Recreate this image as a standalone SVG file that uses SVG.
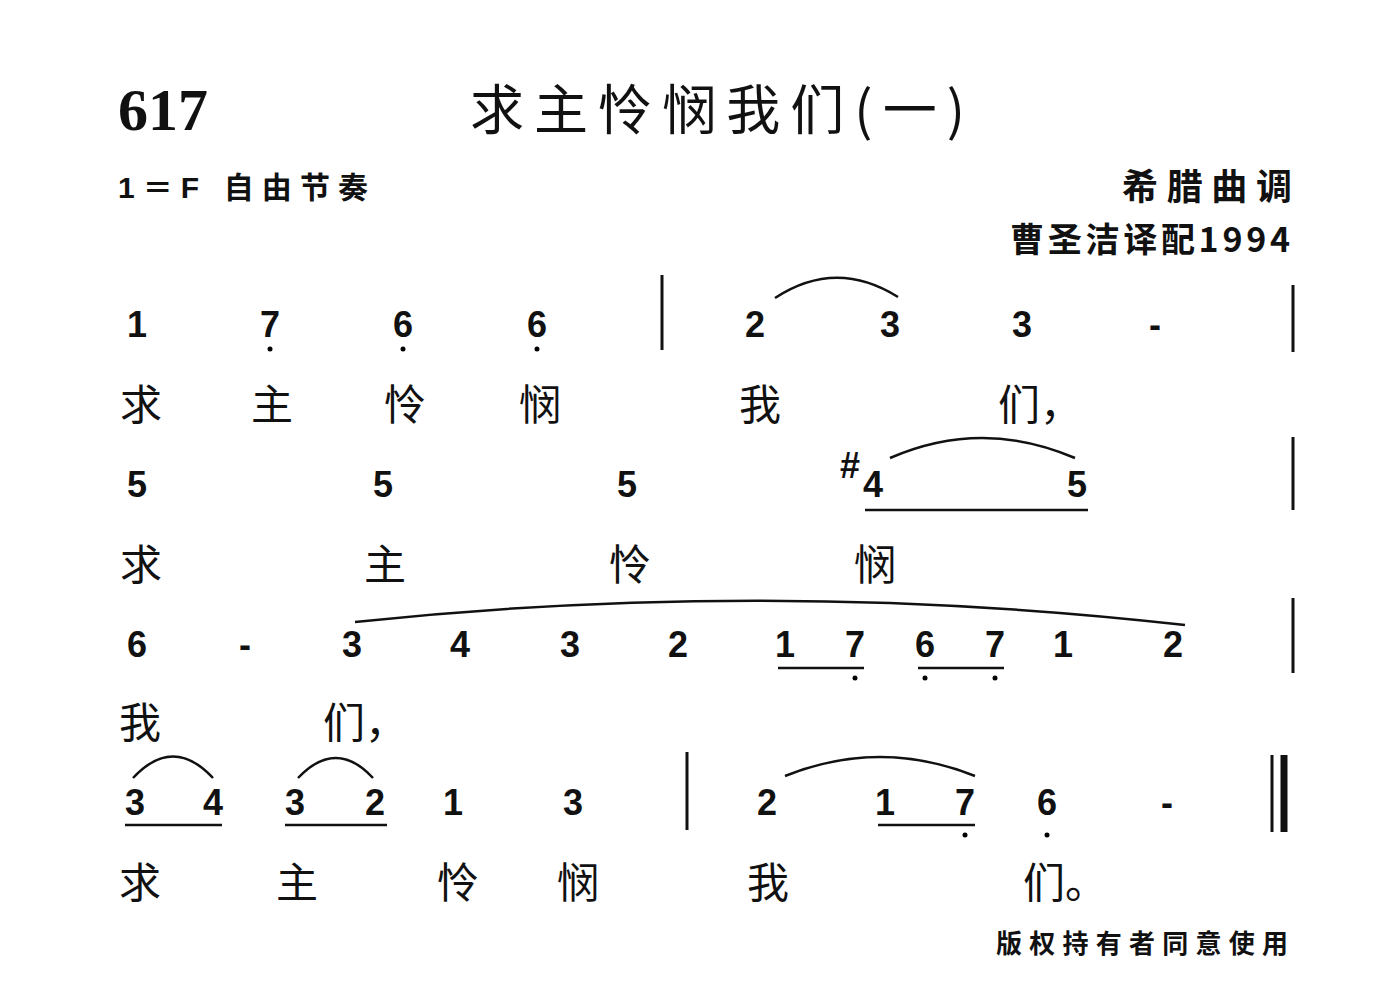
<svg xmlns="http://www.w3.org/2000/svg" width="1400" height="999" viewBox="0 0 1400 999">
<style>
.n{font-family:"Liberation Sans",sans-serif;font-weight:bold;font-size:36px;text-anchor:middle;fill:#111}
.l{font-family:"Noto Sans CJK SC",sans-serif;font-size:42px;text-anchor:middle;fill:#111}
.s{fill:none;stroke:#111;stroke-width:2.5}
.u{stroke:#111;stroke-width:2.5}
.b{stroke:#111;stroke-width:3}
</style>
<rect width="1400" height="999" fill="#fff"/>
<text x="118" y="130" font-family="Liberation Serif,serif" font-weight="bold" font-size="60" fill="#111">617</text>
<text x="470" y="130" textLength="495" font-family="Noto Sans CJK SC,sans-serif" font-size="54" fill="#111">求主怜悯我们(一)</text>
<text x="118" y="198" textLength="250" font-family="Liberation Sans,Noto Sans CJK SC,sans-serif" font-weight="bold" font-size="30" fill="#111">1＝F 自由节奏</text>
<text x="1292" y="200" text-anchor="end" textLength="170" font-family="Noto Sans CJK SC,sans-serif" font-weight="bold" font-size="36" fill="#111">希腊曲调</text>
<text x="1290" y="252" text-anchor="end" textLength="280" font-family="Noto Sans CJK SC,sans-serif" font-weight="bold" font-size="34" fill="#111">曹圣洁译配1994</text>
<text x="1288" y="953" text-anchor="end" textLength="292" font-family="Noto Sans CJK SC,sans-serif" font-weight="bold" font-size="26" fill="#111">版权持有者同意使用</text>
<g id="row1">
<text class="n" x="137" y="337">1</text><text class="n" x="270" y="337">7</text><text class="n" x="403" y="337">6</text><text class="n" x="537" y="337">6</text>
<circle cx="270" cy="349" r="2.5"/><circle cx="403" cy="349" r="2.5"/><circle cx="537" cy="349" r="2.5"/>
<line class="b" x1="662" y1="275" x2="662" y2="350"/>
<text class="n" x="755" y="337">2</text><text class="n" x="890" y="337">3</text><text class="n" x="1022" y="337">3</text><text class="n" x="1155" y="337">-</text>
<line class="b" x1="1293" y1="285" x2="1293" y2="352"/>
<path class="s" d="M775 298 Q836 258 898 297"/>
<text class="l" x="141" y="420">求</text><text class="l" x="272" y="420">主</text><text class="l" x="405" y="420">怜</text><text class="l" x="540" y="420">悯</text><text class="l" x="760" y="420">我</text><text class="l" x="1040" y="420">们，</text>
</g>
<g id="row2">
<text class="n" x="137" y="497">5</text><text class="n" x="383" y="497">5</text><text class="n" x="627" y="497">5</text>
<text class="n" x="850" y="478" font-size="24">#</text><text class="n" x="873" y="497">4</text><text class="n" x="1077" y="497">5</text>
<line class="u" x1="865" y1="510" x2="1088" y2="510"/>
<path class="s" d="M890 458 Q982 418 1075 458"/>
<line class="b" x1="1293" y1="437" x2="1293" y2="510"/>
<text class="l" x="141" y="580">求</text><text class="l" x="385" y="580">主</text><text class="l" x="630" y="580">怜</text><text class="l" x="875" y="580">悯</text>
</g>
<g id="row3">
<text class="n" x="137" y="657">6</text><text class="n" x="245" y="657">-</text><text class="n" x="352" y="657">3</text><text class="n" x="460" y="657">4</text><text class="n" x="570" y="657">3</text><text class="n" x="678" y="657">2</text>
<text class="n" x="785" y="657">1</text><text class="n" x="855" y="657">7</text><text class="n" x="925" y="657">6</text><text class="n" x="995" y="657">7</text><text class="n" x="1063" y="657">1</text><text class="n" x="1173" y="657">2</text>
<line class="u" x1="778" y1="668" x2="864" y2="668"/><line class="u" x1="918" y1="668" x2="1004" y2="668"/>
<circle cx="855" cy="678" r="2.5"/><circle cx="925" cy="678" r="2.5"/><circle cx="995" cy="678" r="2.5"/>
<path class="s" d="M355 622 Q770 578 1185 625"/>
<line class="b" x1="1293" y1="598" x2="1293" y2="673"/>
<text class="l" x="140" y="738">我</text><text class="l" x="365" y="738">们，</text>
</g>
<g id="row4">
<text class="n" x="135" y="815">3</text><text class="n" x="213" y="815">4</text><text class="n" x="295" y="815">3</text><text class="n" x="375" y="815">2</text><text class="n" x="453" y="815">1</text><text class="n" x="573" y="815">3</text>
<line class="b" x1="687" y1="752" x2="687" y2="830"/>
<text class="n" x="767" y="815">2</text><text class="n" x="885" y="815">1</text><text class="n" x="965" y="815">7</text><text class="n" x="1047" y="815">6</text><text class="n" x="1167" y="815">-</text>
<circle cx="965" cy="835" r="2.5"/><circle cx="1047" cy="835" r="2.5"/>
<line class="u" x1="125" y1="825" x2="222" y2="825"/><line class="u" x1="285" y1="825" x2="387" y2="825"/><line class="u" x1="878" y1="825" x2="975" y2="825"/>
<path class="s" d="M133 778 Q173 735 213 778"/><path class="s" d="M298 778 Q336 738 373 778"/><path class="s" d="M785 776 Q880 738 975 776"/>
<line stroke="#111" stroke-width="3" x1="1272" y1="755" x2="1272" y2="832"/><line stroke="#111" stroke-width="7" x1="1284" y1="755" x2="1284" y2="832"/>
<text class="l" x="140" y="898">求</text><text class="l" x="297" y="898">主</text><text class="l" x="458" y="898">怜</text><text class="l" x="578" y="898">悯</text><text class="l" x="768" y="898">我</text><text class="l" x="1065" y="898">们。</text>
</g>
</svg>
